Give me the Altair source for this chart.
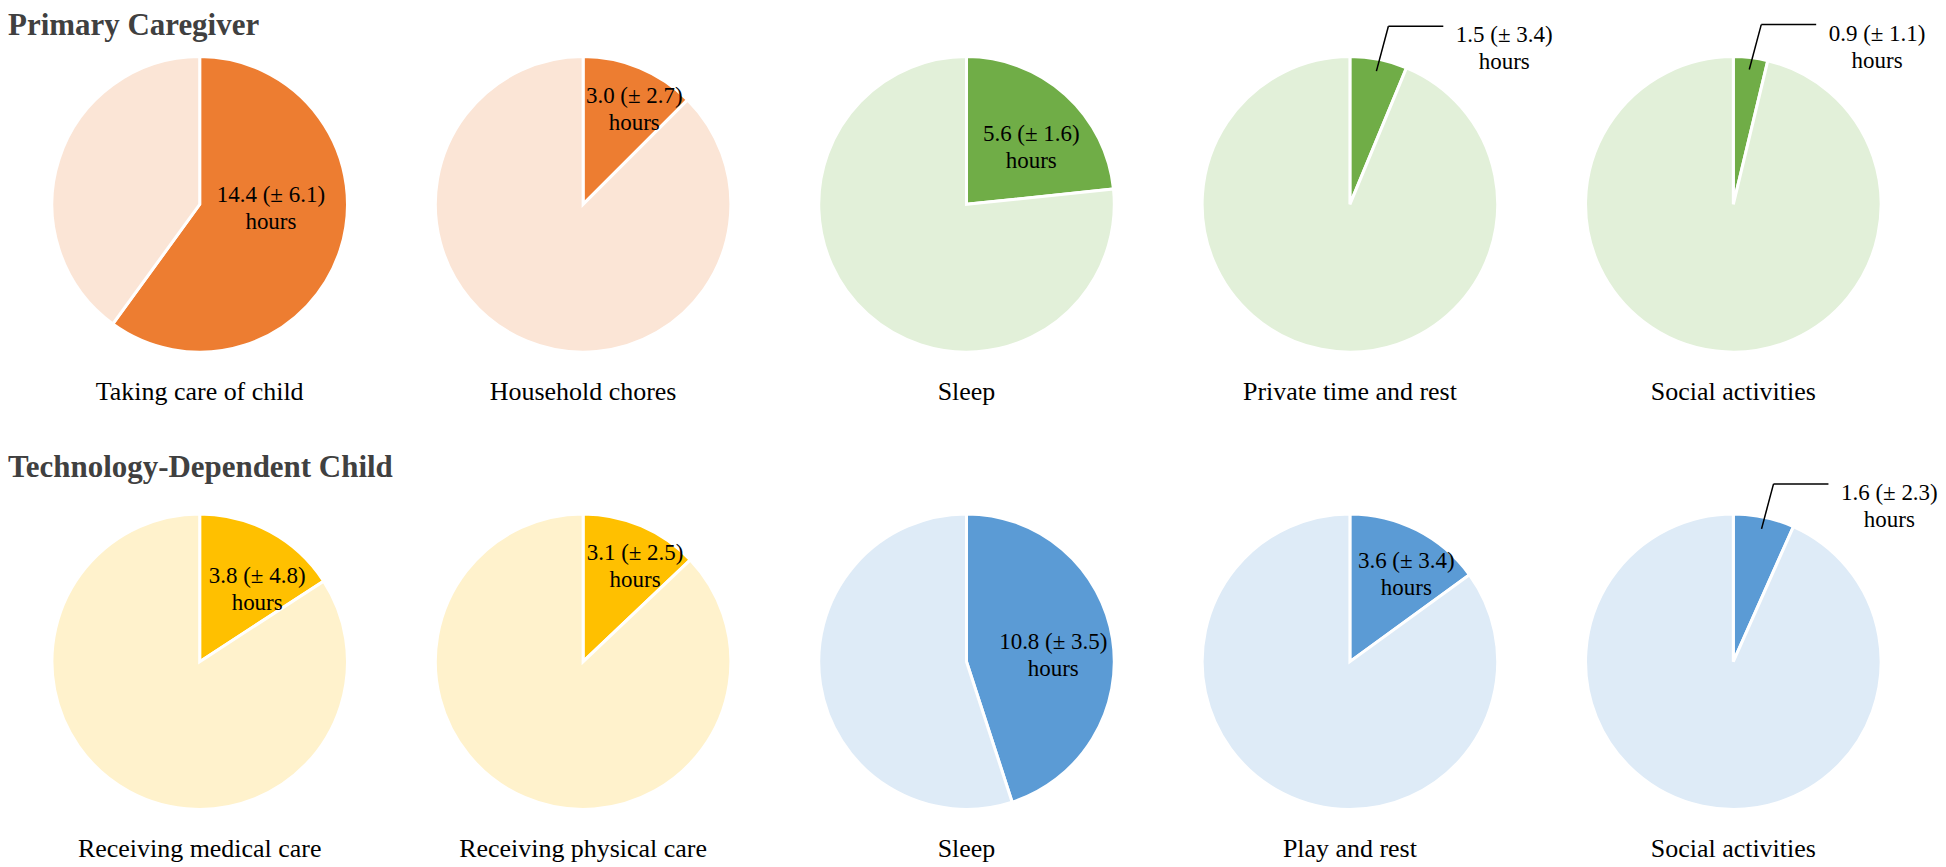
import altair as alt
import pandas as pd

# ---------------- data ----------------
GROUP_TITLES = ["Primary Caregiver", "Technology-Dependent Child"]

CAREGIVER_ACTIVITIES = ["Taking care of child", "Household chores", "Sleep",
                        "Private time and rest", "Social activities"]
CAREGIVER_HOURS = [14.4, 3.0, 5.6, 1.5, 0.9]
CAREGIVER_SD = [6.1, 2.7, 1.6, 3.4, 1.1]

CHILD_ACTIVITIES = ["Receiving medical care", "Receiving physical care", "Sleep",
                    "Play and rest", "Social activities"]
CHILD_HOURS = [3.8, 3.1, 10.8, 3.6, 1.6]
CHILD_SD = [4.8, 2.5, 3.5, 3.4, 2.3]

DAY_HOURS = 24

# ---------------- styles ----------------
FONT = "Liberation Serif"
ORANGE = ("#ED7D31", "#FBE5D6")
GREEN = ("#70AD47", "#E2F0D9")
YELLOW = ("#FFC000", "#FFF2CC")
BLUE = ("#5B9BD5", "#DEEBF7")
CAREGIVER_COLORS = [ORANGE, ORANGE, GREEN, GREEN, GREEN]
CHILD_COLORS = [YELLOW, YELLOW, BLUE, BLUE, BLUE]

# inside-label placement (radius, dx, dy); None -> callout label outside
LINE_SHIFT = -13.5
CAREGIVER_LABEL_POS = [(75, 0, -19), (100, 13, -3), (85, 8, 6), None, None]
CHILD_LABEL_POS = [(85, 17, 2), (104, 11, 0), (88, 0, 8), (98, 12, 0), None]

CELL_W = 384
CELL_H = 294
R = 148


def pie(activity, hours, sd, colors, label_pos):
    dark, light = colors
    df = pd.DataFrame({
        "part": ["activity", "rest"],
        "hours": [hours, DAY_HOURS - hours],
        "order": [0, 1],
        "label": [f"{hours:.1f} (± {sd:.1f})\nhours", ""],
    })
    base = alt.Chart(df).encode(
        theta=alt.Theta("hours:Q", stack=True),
        order=alt.Order("order:Q"),
    )
    arc = base.mark_arc(outerRadius=R, stroke="white", strokeWidth=3).encode(
        color=alt.condition("datum.part == 'activity'", alt.value(dark), alt.value(light))
    )
    layers = [arc]
    if label_pos is not None:
        r, dx, dy = label_pos
        txt = base.mark_text(radius=r, dx=dx, dy=dy + LINE_SHIFT, lineBreak="\n", font=FONT,
                             fontSize=23, color="black", align="center",
                             baseline="middle", lineHeight=27).encode(text="label:N")
        layers.append(txt)
    else:
        xs = alt.Scale(domain=[-CELL_W / 2, CELL_W / 2], nice=False, zero=False)
        ys = alt.Scale(domain=[-CELL_H / 2, CELL_H / 2], nice=False, zero=False)
        lead = (alt.Chart(df)
                .transform_filter("datum.part == 'activity'")
                .transform_calculate(mid=f"PI * datum.hours / {DAY_HOURS}")
                .transform_calculate(sx="136 * sin(datum.mid)", sy="136 * cos(datum.mid)")
                .transform_calculate(kx="datum.sx + 12", ky="datum.sy + 45")
                .transform_calculate(ex="datum.kx + 55", tx="datum.kx + 116",
                                     ty="datum.ky - 9"))
        seg1 = lead.mark_rule(color="black", strokeWidth=1.5).encode(
            x=alt.X("sx:Q", scale=xs, axis=None), y=alt.Y("sy:Q", scale=ys, axis=None),
            x2="kx:Q", y2="ky:Q")
        seg2 = lead.mark_rule(color="black", strokeWidth=1.5).encode(
            x=alt.X("kx:Q", scale=xs, axis=None), y=alt.Y("ky:Q", scale=ys, axis=None),
            x2="ex:Q", y2="ky:Q")
        txt = lead.mark_text(lineBreak="\n", font=FONT, fontSize=23, color="black",
                             align="center", baseline="middle", lineHeight=27).encode(
            x=alt.X("tx:Q", scale=xs, axis=None), y=alt.Y("ty:Q", scale=ys, axis=None),
            text="label:N")
        layers += [seg1, seg2, txt]
    return alt.layer(*layers).properties(
        width=CELL_W, height=CELL_H,
        title=alt.TitleParams(activity, orient="bottom", offset=21, font=FONT,
                              fontSize=26, fontWeight="normal", color="black"),
    )


def row(title, acts, hrs, sds, cols, poss, offset):
    charts = [pie(a, h, s, c, p) for a, h, s, c, p in zip(acts, hrs, sds, cols, poss)]
    return alt.hconcat(*charts, spacing=0, bounds="flush").properties(
        title=alt.TitleParams(title, anchor="start", font=FONT, fontSize=31,
                              fontWeight="bold", color="#404040", offset=offset)
    )


row1 = row(GROUP_TITLES[0], CAREGIVER_ACTIVITIES, CAREGIVER_HOURS, CAREGIVER_SD,
           CAREGIVER_COLORS, CAREGIVER_LABEL_POS, -19)
row2 = row(GROUP_TITLES[1], CHILD_ACTIVITIES, CHILD_HOURS, CHILD_SD,
           CHILD_COLORS, CHILD_LABEL_POS, -2)

chart = alt.vconcat(row1, row2, spacing=46).properties(
    padding={"left": 0, "top": 0, "right": 0, "bottom": 0}
).configure_view(stroke=None)

chart.save("out.html", embed_options={"renderer": "svg", "actions": False})
